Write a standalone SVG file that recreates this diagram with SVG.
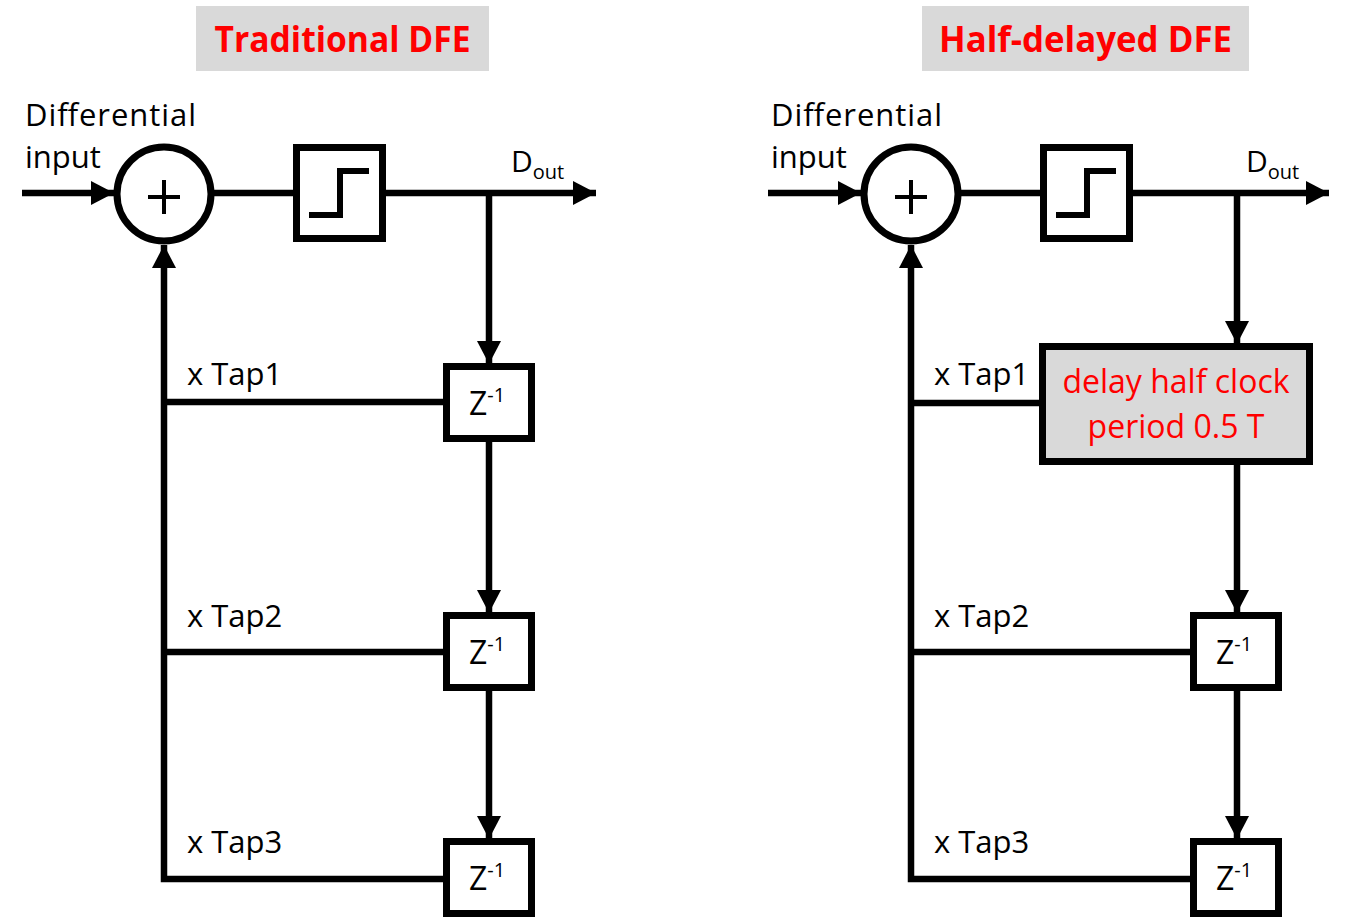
<svg xmlns="http://www.w3.org/2000/svg" width="1355" height="924" viewBox="0 0 1355 924">
<style>
.t{font-family:"Open Sans","Liberation Sans",sans-serif;font-size:31px;fill:#000}
.title{font-family:"Open Sans","Liberation Sans",sans-serif;font-size:36px;font-weight:bold;fill:#ff0000}
.red{font-family:"Open Sans","Liberation Sans",sans-serif;font-size:32px;fill:#ff0000}
.z{font-family:"Open Sans","Liberation Sans",sans-serif;font-size:32px;fill:#000}
.sup{font-size:20px}
.box{fill:#fff;stroke:#000;stroke-width:7}
.gbox{fill:#d9d9d9;stroke:#000;stroke-width:7}
.sum{fill:#fff;stroke:#000;stroke-width:7}
.w{fill:none;stroke:#000;stroke-width:6}
.ln{fill:none;stroke:#000;stroke-width:6.5}
.arr{fill:none;stroke:#000;stroke-width:6.5;marker-end:url(#ah)}
</style>
<defs>
<marker id="ah" markerUnits="userSpaceOnUse" markerWidth="24" markerHeight="24" refX="23" refY="12" orient="auto">
<path d="M0,0 L23,12 L0,24 z" fill="#000"/>
</marker>
</defs>
<rect width="1355" height="924" fill="#fff"/>

<g id="connectors">
<!-- left -->
<line class="arr" x1="22" y1="193" x2="114" y2="193"/>
<line class="ln" x1="214" y1="193" x2="294" y2="193"/>
<line class="arr" x1="385" y1="193" x2="596" y2="193"/>
<line class="arr" x1="489" y1="193" x2="489" y2="364"/>
<line class="arr" x1="489" y1="441" x2="489" y2="613"/>
<line class="arr" x1="489" y1="690" x2="489" y2="839"/>
<line class="ln" x1="444" y1="402" x2="164" y2="402"/>
<line class="ln" x1="444" y1="652" x2="164" y2="652"/>
<polyline class="arr" points="444,879 164,879 164,245"/>
<!-- right -->
<line class="arr" x1="768" y1="193" x2="861" y2="193"/>
<line class="ln" x1="961" y1="193" x2="1041" y2="193"/>
<line class="arr" x1="1132" y1="193" x2="1329" y2="193"/>
<line class="arr" x1="1237" y1="193" x2="1237" y2="344"/>
<line class="arr" x1="1237" y1="464" x2="1237" y2="613"/>
<line class="arr" x1="1237" y1="690" x2="1237" y2="839"/>
<line class="ln" x1="1040" y1="403" x2="911" y2="403"/>
<line class="ln" x1="1191" y1="652" x2="911" y2="652"/>
<polyline class="arr" points="1191,879 911,879 911,245"/>
</g>

<!-- LEFT: Traditional DFE -->
<g id="title-left">
<rect x="196" y="6" width="293" height="65" fill="#d9d9d9"/>
<text class="title" x="342.5" y="52" text-anchor="middle" textLength="256" lengthAdjust="spacingAndGlyphs">Traditional DFE</text>
</g>
<g id="input-left">
<text class="t" x="25" y="126" textLength="171">Differential</text>
<text class="t" x="25" y="168">input</text>
</g>
<g id="sum-left">
<circle class="sum" cx="164" cy="194" r="47"/>
<line x1="148" y1="197" x2="180" y2="197" stroke="#000" stroke-width="4"/>
<line x1="164" y1="180" x2="164" y2="214" stroke="#000" stroke-width="4"/>
</g>
<g id="slicer-left">
<rect class="box" x="296.5" y="147.5" width="86" height="91"/>
<path class="w" d="M309,215 H340 V171 H369"/>
</g>
<g id="dout-left">
<text class="t" x="511" y="172" style="font-size:30px">D<tspan class="sup" dy="7">out</tspan></text>
</g>
<g id="z1-left">
<rect class="box" x="446.5" y="366.5" width="85" height="72"/>
<text class="z" x="469" y="415">Z<tspan class="sup" dy="-13">-1</tspan></text>
</g>
<g id="z2-left">
<rect class="box" x="446.5" y="615.5" width="85" height="72"/>
<text class="z" x="469" y="664">Z<tspan class="sup" dy="-13">-1</tspan></text>
</g>
<g id="z3-left">
<rect class="box" x="446.5" y="841.5" width="85" height="72"/>
<text class="z" x="469" y="890">Z<tspan class="sup" dy="-13">-1</tspan></text>
</g>
<g id="tap-labels-left">
<text class="t" x="187" y="385">x Tap1</text>
<text class="t" x="187" y="627">x Tap2</text>
<text class="t" x="187" y="853">x Tap3</text>
</g>

<!-- RIGHT: Half-delayed DFE -->
<g id="title-right">
<rect x="922" y="6" width="327" height="65" fill="#d9d9d9"/>
<text class="title" x="1085.5" y="52" text-anchor="middle" textLength="293" lengthAdjust="spacingAndGlyphs">Half-delayed DFE</text>
</g>
<g id="input-right">
<text class="t" x="771" y="126" textLength="171">Differential</text>
<text class="t" x="771" y="168">input</text>
</g>
<g id="sum-right">
<circle class="sum" cx="911" cy="194" r="47"/>
<line x1="895" y1="197" x2="927" y2="197" stroke="#000" stroke-width="4"/>
<line x1="911" y1="180" x2="911" y2="214" stroke="#000" stroke-width="4"/>
</g>
<g id="slicer-right">
<rect class="box" x="1043.5" y="147.5" width="86" height="91"/>
<path class="w" d="M1056,215 H1087 V171 H1116"/>
</g>
<g id="dout-right">
<text class="t" x="1246" y="172" style="font-size:30px">D<tspan class="sup" dy="7">out</tspan></text>
</g>
<g id="delay-right">
<rect class="gbox" x="1042.5" y="346.5" width="267" height="115"/>
<text class="red" x="1176" y="393" text-anchor="middle">delay half clock</text>
<text class="red" x="1176" y="438" text-anchor="middle">period 0.5 T</text>
</g>
<g id="z2-right">
<rect class="box" x="1193.5" y="615.5" width="85" height="72"/>
<text class="z" x="1216" y="664">Z<tspan class="sup" dy="-13">-1</tspan></text>
</g>
<g id="z3-right">
<rect class="box" x="1193.5" y="841.5" width="85" height="72"/>
<text class="z" x="1216" y="890">Z<tspan class="sup" dy="-13">-1</tspan></text>
</g>
<g id="tap-labels-right">
<text class="t" x="934" y="385">x Tap1</text>
<text class="t" x="934" y="627">x Tap2</text>
<text class="t" x="934" y="853">x Tap3</text>
</g>
</svg>
